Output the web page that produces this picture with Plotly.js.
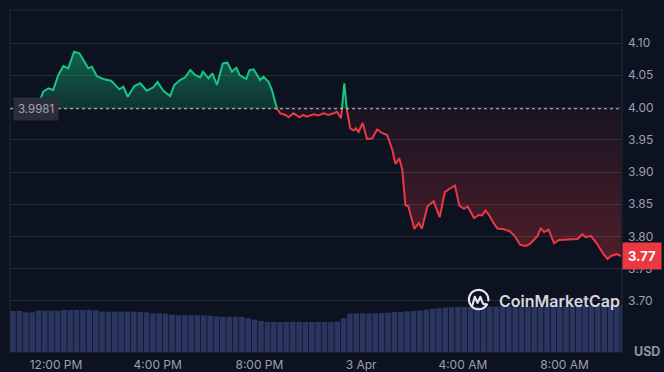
<!DOCTYPE html>
<html>
<head>
<meta charset="utf-8">
<script src="https://cdn.plot.ly/plotly-3.0.1.min.js"></script>
<style>
  html, body { margin: 0; padding: 0; background: #0d1220; }
  #chart { width: 664px; height: 372px; }
</style>
</head>
<body>
<div id="chart"></div>
<script>
// ---- Data (hours since 00:00 on 2 Apr; price in USD) ----
const hours = [11.37,11.50,11.70,11.89,12.09,12.29,12.48,12.71,12.92,13.07,
  13.27,13.41,13.60,13.86,14.17,14.49,14.65,14.82,15.08,15.31,
  15.57,15.83,15.99,16.22,16.49,16.65,16.88,17.08,17.28,17.47,
  17.67,17.78,18.00,18.15,18.33,18.56,18.74,18.92,19.09,19.22,
  19.48,19.61,19.77,20.03,20.16,20.36,20.49,20.69,20.82,21.02,
  21.15,21.34,21.58,21.72,21.87,22.13,22.31,22.52,22.71,22.92,
  23.05,23.21,23.34,23.44,23.50,23.57,23.71,23.79,23.90,24.06,
  24.23,24.43,24.63,24.82,25.02,25.23,25.35,25.50,25.62,25.74,
  25.86,26.09,26.27,26.39,26.61,26.85,27.09,27.29,27.48,27.69,
  27.86,28.04,28.19,28.44,28.63,28.76,28.89,29.02,29.20,29.36,
  29.62,29.85,30.05,30.25,30.46,30.62,30.80,30.94,31.07,31.19,
  31.37,31.59,31.78,32.08,32.33,32.51,32.70,32.83,33.03,33.26,
  33.52,33.69,33.82,34.05,34.22];
const prices = [4.0116,4.0245,4.0298,4.0271,4.0504,4.0643,4.0608,4.0865,4.0840,4.0736,
  4.0608,4.0633,4.0488,4.0442,4.0416,4.0282,4.0322,4.0167,4.0333,4.0375,
  4.0260,4.0313,4.0395,4.0260,4.0178,4.0349,4.0426,4.0468,4.0581,4.0504,
  4.0468,4.0555,4.0453,4.0530,4.0349,4.0685,4.0695,4.0555,4.0617,4.0504,
  4.0442,4.0581,4.0592,4.0426,4.0478,4.0400,4.0271,3.9984,3.9910,3.9884,
  3.9848,3.9910,3.9848,3.9884,3.9857,3.9895,3.9876,3.9910,3.9884,3.9910,
  3.9935,3.9833,4.0375,3.9961,3.9833,3.9678,3.9643,3.9678,3.9620,3.9760,
  3.9512,3.9519,3.9659,3.9605,3.9574,3.9341,3.9124,3.9212,3.9031,3.8488,
  3.8465,3.8119,3.8209,3.8119,3.8468,3.8546,3.8299,3.8687,3.8740,3.8791,
  3.8481,3.8429,3.8468,3.8287,3.8333,3.8326,3.8403,3.8341,3.8214,3.8124,
  3.8112,3.8081,3.8003,3.7873,3.7853,3.7879,3.7950,3.8008,3.8132,3.8067,
  3.8105,3.7895,3.7946,3.7957,3.7957,3.7961,3.8036,3.7989,3.8008,3.7899,
  3.7732,3.7651,3.7698,3.7726,3.7698];
const openPrice = 3.9981;

// Volume bars (relative units), every 15 minutes
const volStart = 10.31;
const volStep = 0.25;
const volumes = [120,120,116,116,121,121,121,121,123,123,
  123,123,123,122,118,118,118,118,118,118,
  117,116,113,113,112,109,108,108,108,108,
  107,106,104,103,103,103,103,99,95,91,
  88,88,88,88,88,88,88,88,88,88,
  88,89,99,112,113,113,113,113,114,115,
  117,117,119,120,121,124,126,128,130,131,
  132,132,132,132,133,133,133,133,133,133,
  133,133,133,133,134,134,134,134,134,134,
  135,135,136,137,137,137,137];

const priceTicks = [3.70, 3.75, 3.80, 3.85, 3.90, 3.95, 4.00, 4.05, 4.10];
const timeTicks = [12, 16, 20, 24, 28, 32];
const timeLabels = ["12:00 PM", "4:00 PM", "8:00 PM", "3 Apr", "4:00 AM", "8:00 AM"];

// ---- Split the line at the opening price ----
const X = [], P = [];
for (let i = 0; i < hours.length; i++) {
  X.push(hours[i]); P.push(prices[i]);
  if (i < hours.length - 1) {
    const a = prices[i] - openPrice, b = prices[i + 1] - openPrice;
    if (a * b < 0) {
      const t = a / (a - b);
      X.push(hours[i] + t * (hours[i + 1] - hours[i]));
      P.push(openPrice);
    }
  }
}
const baseY = X.map(() => openPrice);
const upFill = P.map(p => Math.max(p, openPrice));
const downFill = P.map(p => Math.min(p, openPrice));
const upLine = P.map(p => p >= openPrice ? p : null);
const downLine = P.map(p => p <= openPrice ? p : null);

const GREEN = '#16c784', RED = '#ea3943';
const GRID = '#262b38', TXT = '#9aa0ad';

const traces = [
  { x: X, y: baseY, type: 'scatter', mode: 'lines', line: { width: 0 }, hoverinfo: 'skip', showlegend: false },
  { x: X, y: upFill, type: 'scatter', mode: 'lines', line: { width: 0 }, fill: 'tonexty',
    fillgradient: { type: 'vertical', colorscale: [[0, 'rgba(22,199,132,0.18)'], [1, 'rgba(22,199,132,0.44)']] },
    hoverinfo: 'skip', showlegend: false },
  { x: X, y: baseY, type: 'scatter', mode: 'lines', line: { width: 0 }, hoverinfo: 'skip', showlegend: false },
  { x: X, y: downFill, type: 'scatter', mode: 'lines', line: { width: 0 }, fill: 'tonexty',
    fillgradient: { type: 'vertical', colorscale: [[0, 'rgba(234,57,67,0.30)'], [1, 'rgba(234,57,67,0.05)']] },
    hoverinfo: 'skip', showlegend: false },
  { x: X, y: upLine, type: 'scatter', mode: 'lines', line: { color: GREEN, width: 2 }, connectgaps: false, showlegend: false },
  { x: X, y: downLine, type: 'scatter', mode: 'lines', line: { color: RED, width: 2 }, connectgaps: false, showlegend: false },
  { x0: volStart, dx: volStep, y: volumes, type: 'bar', yaxis: 'y2', marker: { color: '#2a3560', line: { width: 0 } }, showlegend: false }
];

const logoSvg = '<svg xmlns="http://www.w3.org/2000/svg" width="48" height="48" viewBox="0 0 48 48">' +
  '<path d="M40.5 32 A19 19 0 1 1 43 24" fill="none" stroke="#e6e8ee" stroke-width="4.2" stroke-linecap="round"/>' +
  '<path d="M12 33 L16.5 17 L22 29 L27.5 17 L32 29 Q34 33 38 31" fill="none" stroke="#e6e8ee" stroke-width="4.2" stroke-linecap="round" stroke-linejoin="round"/>' +
  '</svg>';

const layout = {
  width: 664, height: 372,
  margin: { l: 10, r: 42, t: 10, b: 20 },
  paper_bgcolor: '#0d1220', plot_bgcolor: '#0d1220',
  font: { family: 'Inter, "Open Sans", sans-serif', color: TXT, size: 12 },
  showlegend: false,
  hovermode: false,
  bargap: 0.12,
  xaxis: {
    range: [10.19, 34.26], tickvals: timeTicks, ticktext: timeLabels,
    showgrid: false, zeroline: false, showline: false, ticks: '',
    ticklabelstandoff: 4, tickfont: { size: 12, color: TXT }
  },
  yaxis: {
    range: [3.6209, 4.1512], side: 'right', tickvals: priceTicks,
    tickformat: '.2f', showgrid: true, gridcolor: GRID, gridwidth: 1,
    zeroline: false, showline: false, ticks: '', ticklabelstandoff: 5,
    tickfont: { size: 12, color: TXT }
  },
  yaxis2: { overlaying: 'y', range: [0, 1000], visible: false, fixedrange: true },
  shapes: [
    { type: 'rect', xref: 'paper', yref: 'paper', x0: 0, x1: 1, y0: 0, y1: 1,
      line: { color: GRID, width: 1 }, layer: 'below' },
    { type: 'line', xref: 'paper', yref: 'y', x0: 0, x1: 1, y0: openPrice, y1: openPrice,
      line: { color: 'rgba(255,255,255,0.75)', width: 1, dash: 'dot' }, layer: 'above' }
  ],
  images: [{
    source: 'data:image/svg+xml;utf8,' + encodeURIComponent(logoSvg),
    xref: 'paper', yref: 'paper', x: 0.7457, y: 0.187, sizex: 0.040, sizey: 0.072,
    xanchor: 'left', yanchor: 'top', sizing: 'contain', layer: 'above'
  }],
  annotations: [
    { xref: 'paper', yref: 'y', x: 0, y: openPrice, xanchor: 'left', yanchor: 'middle', xshift: 3,
      text: openPrice.toFixed(4), showarrow: false, bgcolor: '#2a2e3a', borderpad: 4,
      font: { size: 11.5, color: '#a1a7b4' } },
    { xref: 'paper', yref: 'y', x: 1, y: prices[prices.length - 1], xanchor: 'left', yanchor: 'middle',
      text: '<b>' + prices[prices.length - 1].toFixed(2) + '</b>', showarrow: false,
      bgcolor: RED, borderpad: 5, font: { size: 13, color: '#ffffff' } },
    { xref: 'paper', yref: 'paper', x: 1, y: 0, xanchor: 'left', yanchor: 'middle', xshift: 10, yshift: 1,
      text: '<b>USD</b>', showarrow: false, font: { size: 12.5, color: '#8e94a0' } },
    { xref: 'paper', yref: 'y', x: 0.7964, y: 3.70, xanchor: 'left', yanchor: 'middle',
      text: 'CoinMarketCap', showarrow: false,
      font: { size: 16, color: 'rgba(232,234,240,0.92)', weight: 600 } }
  ]
};

Plotly.newPlot('chart', traces, layout, { displayModeBar: false, staticPlot: true });
</script>
</body>
</html>
